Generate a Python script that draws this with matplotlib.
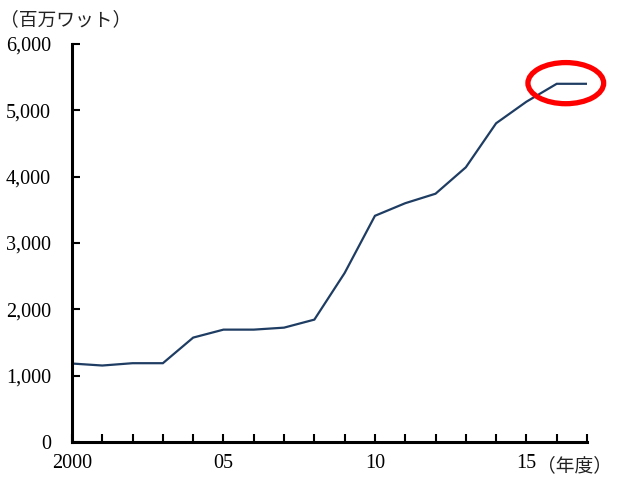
import matplotlib
matplotlib.use("Agg")
import matplotlib.pyplot as plt
from matplotlib.patches import Ellipse

years = list(range(2000, 2018))
capacity = [1183, 1153, 1188, 1188, 1574, 1694, 1694, 1724, 1845, 2548,
            3410, 3600, 3743, 4141, 4805, 5130, 5400, 5400]
year_labels = {2000: "2000", 2005: "05", 2010: "10", 2015: "15"}
y_ticks = [0, 1000, 2000, 3000, 4000, 5000, 6000]

serif = ["Liberation Serif", "DejaVu Serif"]
jp = ["Noto Sans CJK JP", "DejaVu Sans"]

fig = plt.figure(figsize=(6.17, 4.79), dpi=100)
ax = fig.add_axes([72 / 617, 37 / 479, 515 / 617, 398 / 479])

ax.plot(years, capacity, color="#1f3d63", linewidth=1.6, solid_joinstyle="miter")

ax.set_xlim(2000, 2017)
ax.set_ylim(0, 6000)
for s in ("top", "right"):
    ax.spines[s].set_visible(False)
for s in ("left", "bottom"):
    ax.spines[s].set_linewidth(2.2)
    ax.spines[s].set_color("black")

ax.set_xticks(years)
ax.set_xticklabels([year_labels.get(y, "") for y in years], fontfamily=serif, fontsize=14.5)
ax.set_yticks(y_ticks)
ax.set_yticklabels([f"{v:,}" for v in y_ticks], fontfamily=serif, fontsize=14.5)
ax.tick_params(axis="x", direction="in", length=6, width=1.5, pad=9)
ax.tick_params(axis="y", direction="in", length=6, width=1.5, pad=15)

# highlight the latest level
ax.add_patch(Ellipse((2016.3, 5410), width=2.5, height=620, fill=False,
                     edgecolor="#ff0000", linewidth=3.8, clip_on=False, zorder=5))

fig.text(0 / 617, 1 - 20 / 479, "（百万ワット）", fontfamily=jp, fontsize=13.5,
         ha="left", va="center", color="#222222")
fig.text(612 / 617, 1 - 466 / 479, "（年度）", fontfamily=jp, fontsize=13.5,
         ha="right", va="center", color="#222222")

fig.savefig("out.png", dpi=100)
